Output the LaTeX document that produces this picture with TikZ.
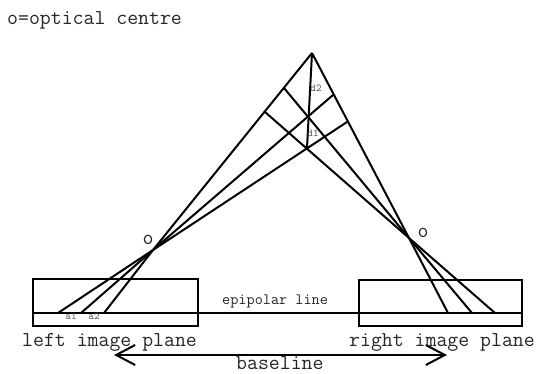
\documentclass[tikz,border=0pt]{standalone}
\usetikzlibrary{arrows.meta}
\tikzset{
    line/.style={line width=2pt, black},
    bigtext/.style={font=\ttfamily\fontsize{21.2}{21}\selectfont, inner sep=0pt, text=black!85},
    midtext/.style={font=\ttfamily\fontsize{15.8}{16}\selectfont, inner sep=0pt, text=black!85},
    smalltext/.style={font=\ttfamily\fontsize{10.5}{11}\selectfont, inner sep=0pt, text=black!70}
}

\begin{document}
\begin{tikzpicture}[x=1pt, y=-1pt]
    \useasboundingbox (0,0) rectangle (536,374);

    % Points
    \coordinate (apex) at (312,53);
    \coordinate (cross) at (307,148);
    \coordinate (rayr) at (333,95);
    \coordinate (rays) at (347,122);
    \coordinate (rayp) at (284,88);
    \coordinate (rayq) at (265,112);
    \coordinate (oleft) at (153,250);
    \coordinate (oright) at (409,238);
    \coordinate (la) at (58,313);
    \coordinate (lb) at (81,313);
    \coordinate (lc) at (104,313);
    \coordinate (ra) at (448,313);
    \coordinate (rb) at (472,313);
    \coordinate (rc) at (495,313);
    \coordinate (epistart) at (33,313);
    \coordinate (epiend) at (521,313);
    \coordinate (baseleft) at (114,355);
    \coordinate (baseright) at (447,355);

    % Image planes
    \draw[line] (33,279) rectangle (198,326);
    \draw[line] (359,280) rectangle (522,326);
    \draw[line] (epistart) -- (epiend);

    % Left rays
    \draw[line] (lc) -- (oleft) -- (apex);
    \draw[line] (lb) -- (oleft) -- (rayr);
    \draw[line] (la) -- (oleft) -- (rays);

    % Right rays
    \draw[line] (ra) -- (oright) -- (apex);
    \draw[line] (rb) -- (oright) -- (rayp);
    \draw[line] (rc) -- (oright) -- (rayq);

    % Depth line
    \draw[line] (apex) -- (cross);

    % Baseline
    \draw[line, {Straight Barb[length=19pt,width=20pt]}-{Straight Barb[length=19pt,width=20pt]}] (baseleft) -- (baseright);

    % Labels
    \node[bigtext, anchor=base west] (title) at (7,25) {o=optical centre};
    \node[bigtext, anchor=base west] (leftlabel) at (22,347) {left image plane};
    \node[bigtext, anchor=base west] (rightlabel) at (349,346) {right image plane};
    \node[bigtext, anchor=base west] (baselabel) at (236,370) {baseline};
    \node[midtext, anchor=base west] (epilabel) at (222,305) {epipolar line};
    \node[bigtext, anchor=base] (oleftlabel) at (148,245) {o};
    \node[bigtext, anchor=base] (orightlabel) at (423,238) {o};
    \node[smalltext] (aone) at (71,316) {a1};
    \node[smalltext] (atwo) at (94,316) {a2};
    \node[smalltext] (done) at (313,133) {d1};
    \node[smalltext] (dtwo) at (316,88) {d2};
\end{tikzpicture}
\end{document}
